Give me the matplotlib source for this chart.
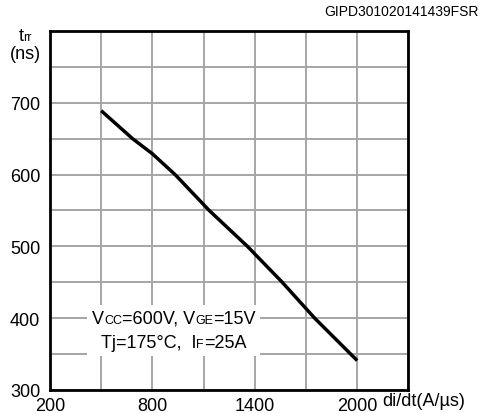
import matplotlib.pyplot as plt
from matplotlib.offsetbox import TextArea, HPacker, VPacker, AnnotationBbox

plt.rcParams['font.family'] = ['Liberation Sans', 'DejaVu Sans']

# di/dt (A/us) vs trr (ns)
didt = [500, 684, 800, 933, 1133, 1357, 1561, 1751, 2000]
trr = [689, 650, 629, 600, 550, 500, 450, 400, 341]

x_ticks = [200, 800, 1400, 2000]
y_ticks = [300, 400, 500, 600, 700]

fig = plt.figure(figsize=(4.84, 4.14), dpi=100)
ax = fig.add_axes([0.1033, 0.0556, 0.7405, 0.8671])

ax.set_xlim(200, 2300)
ax.set_ylim(300, 800)
ax.set_xticks(range(200, 2301, 300), minor=True)
ax.set_yticks(range(300, 801, 50), minor=True)
ax.set_xticks(x_ticks)
ax.set_yticks(y_ticks)
ax.set_xticklabels([str(v) for v in x_ticks])
ax.set_yticklabels([str(v) for v in y_ticks])
ax.grid(which='both', color='#a6a6a6', linewidth=1.4)
ax.set_axisbelow(True)
ax.tick_params(which='both', length=0, labelsize=13, colors='black')
ax.tick_params(axis='x', pad=5)
ax.tick_params(axis='y', pad=7)
for s in ax.spines.values():
    s.set_linewidth(2)
    s.set_color('black')

ax.plot(didt, trr, color='black', linewidth=2.5, solid_capstyle='butt', zorder=3)

# labels
fig.text(0.789, 0.031, 'di/dt(A/µs)', fontsize=13, va='center', ha='left')
fig.text(0.988, 0.972, 'GIPD301020141439FSR', fontsize=10, va='center', ha='right')

def row(parts):
    return HPacker(children=[TextArea(t, textprops=dict(fontsize=fs, color='black'))
                             for t, fs in parts], align='baseline', pad=0, sep=0)

ylab = VPacker(children=[row([('t', 13), ('rr', 9)]), row([('(ns)', 13)])],
               align='center', pad=0, sep=1)
ab = AnnotationBbox(ylab, (0.052, 0.89), xycoords='figure fraction', frameon=False,
                    box_alignment=(0.5, 0.5))
fig.add_artist(ab)

cond = VPacker(children=[
    row([('V', 13), ('CC', 9), ('=600V, V', 13), ('GE', 9), ('=15V', 13)]),
    row([('Tj=175°C,  I', 13), ('F', 9), ('=25A', 13)]),
], align='center', pad=0, sep=5)
ab2 = AnnotationBbox(cond, (925, 383), xycoords='data', frameon=True,
                     box_alignment=(0.5, 0.5), pad=0.35,
                     bboxprops=dict(facecolor='white', edgecolor='none'))
ab2.set_zorder(4)
ax.add_artist(ab2)

fig.savefig('out.png', dpi=100)
